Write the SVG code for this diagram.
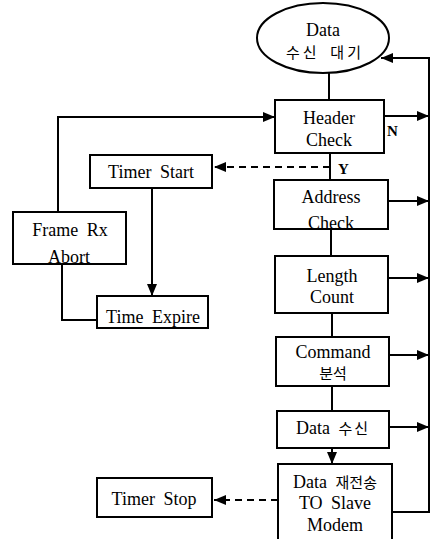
<svg xmlns="http://www.w3.org/2000/svg" width="436" height="539" viewBox="0 0 436 539">
  <style>
    .box { fill: #fff; stroke: #000; stroke-width: 2; }
    .t { font-family: "Liberation Serif", "Noto Sans CJK KR", serif; font-size: 18px; word-spacing: 4px; fill: #000; text-anchor: middle; }
    .k { font-size: 15px; }
    .lbl { font-family: "Liberation Serif", serif; font-size: 15px; font-weight: bold; fill: #000; }
    .ln { fill: none; stroke: #000; stroke-width: 2; }
    .dash { fill: none; stroke: #000; stroke-width: 2; stroke-dasharray: 7 5; }
  </style>
  <defs>
    <marker id="ah" markerUnits="userSpaceOnUse" markerWidth="12" markerHeight="10" refX="12" refY="5" orient="auto">
      <path d="M0,0 L12,5 L0,10 Z" fill="#000"/>
    </marker>
  </defs>
  <rect width="436" height="539" fill="#fff"/>

  <g id="connectors">
    <line class="ln" x1="329" y1="73" x2="329" y2="100"/>
    <path class="ln" d="M392,512 H429 V58 H381" marker-end="url(#ah)"/>
    <line class="ln" x1="384" y1="116" x2="429" y2="116" marker-end="url(#ah)"/>
    <path class="ln" d="M58,212 V117 H275" marker-end="url(#ah)"/>
    <line class="ln" x1="330" y1="153" x2="330" y2="180"/>
    <path class="dash" d="M330,167 H214" marker-end="url(#ah)"/>
    <line class="ln" x1="388" y1="201" x2="429" y2="201" marker-end="url(#ah)"/>
    <line class="ln" x1="331" y1="229" x2="331" y2="256"/>
    <line class="ln" x1="388" y1="278" x2="429" y2="278" marker-end="url(#ah)"/>
    <line class="ln" x1="332" y1="313" x2="332" y2="337"/>
    <line class="ln" x1="389" y1="355" x2="429" y2="355" marker-end="url(#ah)"/>
    <line class="ln" x1="332" y1="386" x2="332" y2="411"/>
    <line class="ln" x1="389" y1="427" x2="429" y2="427" marker-end="url(#ah)"/>
    <line class="ln" x1="332" y1="448" x2="332" y2="464" marker-end="url(#ah)"/>
    <path class="dash" d="M278,500 H214" marker-end="url(#ah)"/>
    <line class="ln" x1="152" y1="188" x2="152" y2="296" marker-end="url(#ah)"/>
    <path class="ln" d="M62,264 V320 H97"/>
    <text class="lbl" x="387" y="136">N</text>
    <text class="lbl" x="338" y="174">Y</text>
  </g>

  <g id="wait">
    <ellipse class="box" cx="323" cy="38" rx="66" ry="35"/>
    <text class="t" x="323" y="36">Data</text>
    <text class="t k" x="325" y="58" letter-spacing="3">수신 대기</text>
  </g>

  <g id="header-check">
    <rect class="box" x="275" y="100" width="109" height="53"/>
    <text class="t" x="329" y="124">Header</text>
    <text class="t" x="329" y="146">Check</text>
  </g>

  <g id="timer-start">
    <rect class="box" x="90" y="155" width="122" height="33"/>
    <text class="t" x="151" y="178">Timer Start</text>
  </g>

  <g id="frame-abort">
    <rect class="box" x="13" y="212" width="113" height="52"/>
    <text class="t" x="70" y="236">Frame Rx</text>
    <text class="t" x="69" y="263">Abort</text>
  </g>

  <g id="time-expire">
    <rect class="box" x="97" y="296" width="111" height="32"/>
    <text class="t" x="153" y="323">Time Expire</text>
  </g>

  <g id="address-check">
    <rect class="box" x="274" y="180" width="114" height="49"/>
    <text class="t" x="331" y="203">Address</text>
    <text class="t" x="331" y="229">Check</text>
  </g>

  <g id="length-count">
    <rect class="box" x="275" y="256" width="113" height="57"/>
    <text class="t" x="332" y="282">Length</text>
    <text class="t" x="332" y="303">Count</text>
  </g>

  <g id="command">
    <rect class="box" x="276" y="337" width="113" height="49"/>
    <text class="t" x="333" y="358">Command</text>
    <text class="t k" x="333" y="379">분석</text>
  </g>

  <g id="data-rx">
    <rect class="box" x="277" y="411" width="112" height="37"/>
    <text class="t" x="333" y="434">Data <tspan class="k" letter-spacing="2">수신</tspan></text>
  </g>

  <g id="data-resend">
    <rect class="box" x="278" y="464" width="114" height="78"/>
    <text class="t" x="335" y="488">Data <tspan class="k">재전송</tspan></text>
    <text class="t" x="335" y="509">TO Slave</text>
    <text class="t" x="335" y="531">Modem</text>
  </g>

  <g id="timer-stop">
    <rect class="box" x="97" y="478" width="115" height="39"/>
    <text class="t" x="154" y="505">Timer Stop</text>
  </g>
</svg>
